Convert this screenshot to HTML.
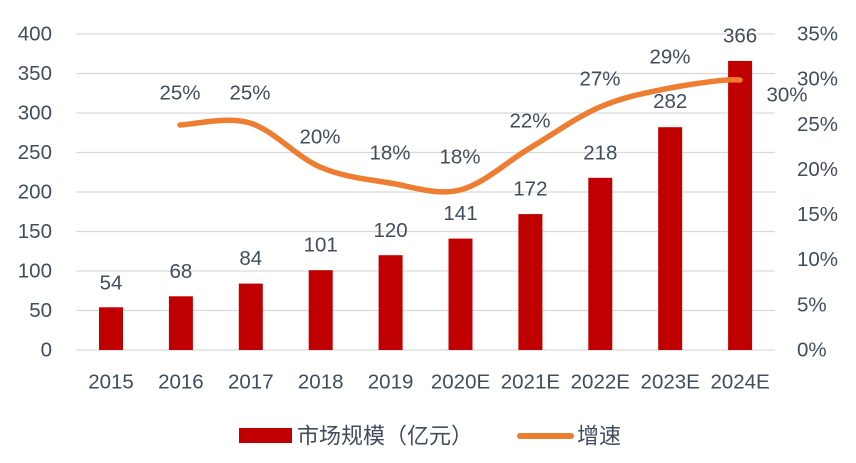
<!DOCTYPE html>
<html><head><meta charset="utf-8"><style>
html,body{margin:0;padding:0;background:#fff;}
svg{display:block;}
text{font-family:"Liberation Sans","Noto Sans CJK SC",sans-serif;fill:#424d5c;font-size:20.5px;}
</style></head><body>
<svg width="856" height="463" viewBox="0 0 856 463" xmlns="http://www.w3.org/2000/svg">
<rect width="856" height="463" fill="#fff"/>
<g stroke="#d9d9d9" stroke-width="1.3">
<line x1="76" x2="775" y1="34" y2="34"/>
<line x1="76" x2="775" y1="73.5" y2="73.5"/>
<line x1="76" x2="775" y1="113" y2="113"/>
<line x1="76" x2="775" y1="152.5" y2="152.5"/>
<line x1="76" x2="775" y1="192" y2="192"/>
<line x1="76" x2="775" y1="231.5" y2="231.5"/>
<line x1="76" x2="775" y1="271" y2="271"/>
<line x1="76" x2="775" y1="310.5" y2="310.5"/>
<line x1="76" x2="775" y1="350" y2="350"/>
</g>
<g text-anchor="end" dominant-baseline="central">
<text x="52" y="34">400</text>
<text x="52" y="73.5">350</text>
<text x="52" y="113">300</text>
<text x="52" y="152.5">250</text>
<text x="52" y="192">200</text>
<text x="52" y="231.5">150</text>
<text x="52" y="271">100</text>
<text x="52" y="310.5">50</text>
<text x="52" y="350">0</text>
</g>
<g text-anchor="start" dominant-baseline="central">
<text x="797" y="34">35%</text>
<text x="797" y="79.1">30%</text>
<text x="797" y="124.3">25%</text>
<text x="797" y="169.4">20%</text>
<text x="797" y="214.6">15%</text>
<text x="797" y="259.7">10%</text>
<text x="797" y="304.9">5%</text>
<text x="797" y="350">0%</text>
</g>
<g fill="#c00000">
<rect x="99" y="307.3" width="24" height="42.7"/>
<rect x="168.9" y="296.3" width="24" height="53.7"/>
<rect x="238.8" y="283.6" width="24" height="66.4"/>
<rect x="308.7" y="270.2" width="24" height="79.8"/>
<rect x="378.6" y="255.2" width="24" height="94.8"/>
<rect x="448.5" y="238.6" width="24" height="111.4"/>
<rect x="518.4" y="214.1" width="24" height="135.9"/>
<rect x="588.3" y="177.8" width="24" height="172.2"/>
<rect x="658.2" y="127.2" width="24" height="222.8"/>
<rect x="728.1" y="60.9" width="24" height="289.1"/>
</g>
<g text-anchor="middle" dominant-baseline="central">
<text x="111" y="283">54</text>
<text x="180.9" y="271.5">68</text>
<text x="250.8" y="258.5">84</text>
<text x="320.7" y="245">101</text>
<text x="390.6" y="230.5">120</text>
<text x="460.5" y="213.5">141</text>
<text x="530.4" y="189">172</text>
<text x="600.3" y="153">218</text>
<text x="670.2" y="101.5">282</text>
<text x="740.1" y="36">366</text>
</g>
<path d="M180,125 C191.7,124.7 226.7,116 250,123 C273.3,130 296.7,157 320,167 C343.3,177 366.7,179.2 390,183 C413.3,186.8 436.7,195.8 460,190 C483.3,184.2 506.7,161.8 530,148 C553.3,134.2 576.7,117 600,107 C623.3,97 646.7,92.5 670,88 C693.3,83.5 728.3,78.7 740,80" fill="none" stroke="#ed7d31" stroke-width="5.5" stroke-linecap="round" stroke-linejoin="round"/>
<g text-anchor="middle" dominant-baseline="central">
<text x="180" y="93">25%</text>
<text x="250" y="93">25%</text>
<text x="320" y="137">20%</text>
<text x="390" y="153">18%</text>
<text x="460" y="157">18%</text>
<text x="530" y="121">22%</text>
<text x="600" y="79">27%</text>
<text x="670" y="57">29%</text>
<text x="787" y="95">30%</text>
</g>
<g text-anchor="middle" dominant-baseline="central">
<text x="111" y="382">2015</text>
<text x="180.9" y="382">2016</text>
<text x="250.8" y="382">2017</text>
<text x="320.7" y="382">2018</text>
<text x="390.6" y="382">2019</text>
<text x="460.5" y="382">2020E</text>
<text x="530.4" y="382">2021E</text>
<text x="600.3" y="382">2022E</text>
<text x="670.2" y="382">2023E</text>
<text x="740.1" y="382">2024E</text>
</g>
<rect x="239" y="428" width="53" height="15" fill="#c00000"/>
<text x="297" y="436" dominant-baseline="central" style="font-size:22px">市场规模（亿元）</text>
<line x1="520" y1="436" x2="571" y2="436" stroke="#ed7d31" stroke-width="6" stroke-linecap="round"/>
<text x="577" y="436" dominant-baseline="central" style="font-size:22px">增速</text>
</svg>
</body></html>
